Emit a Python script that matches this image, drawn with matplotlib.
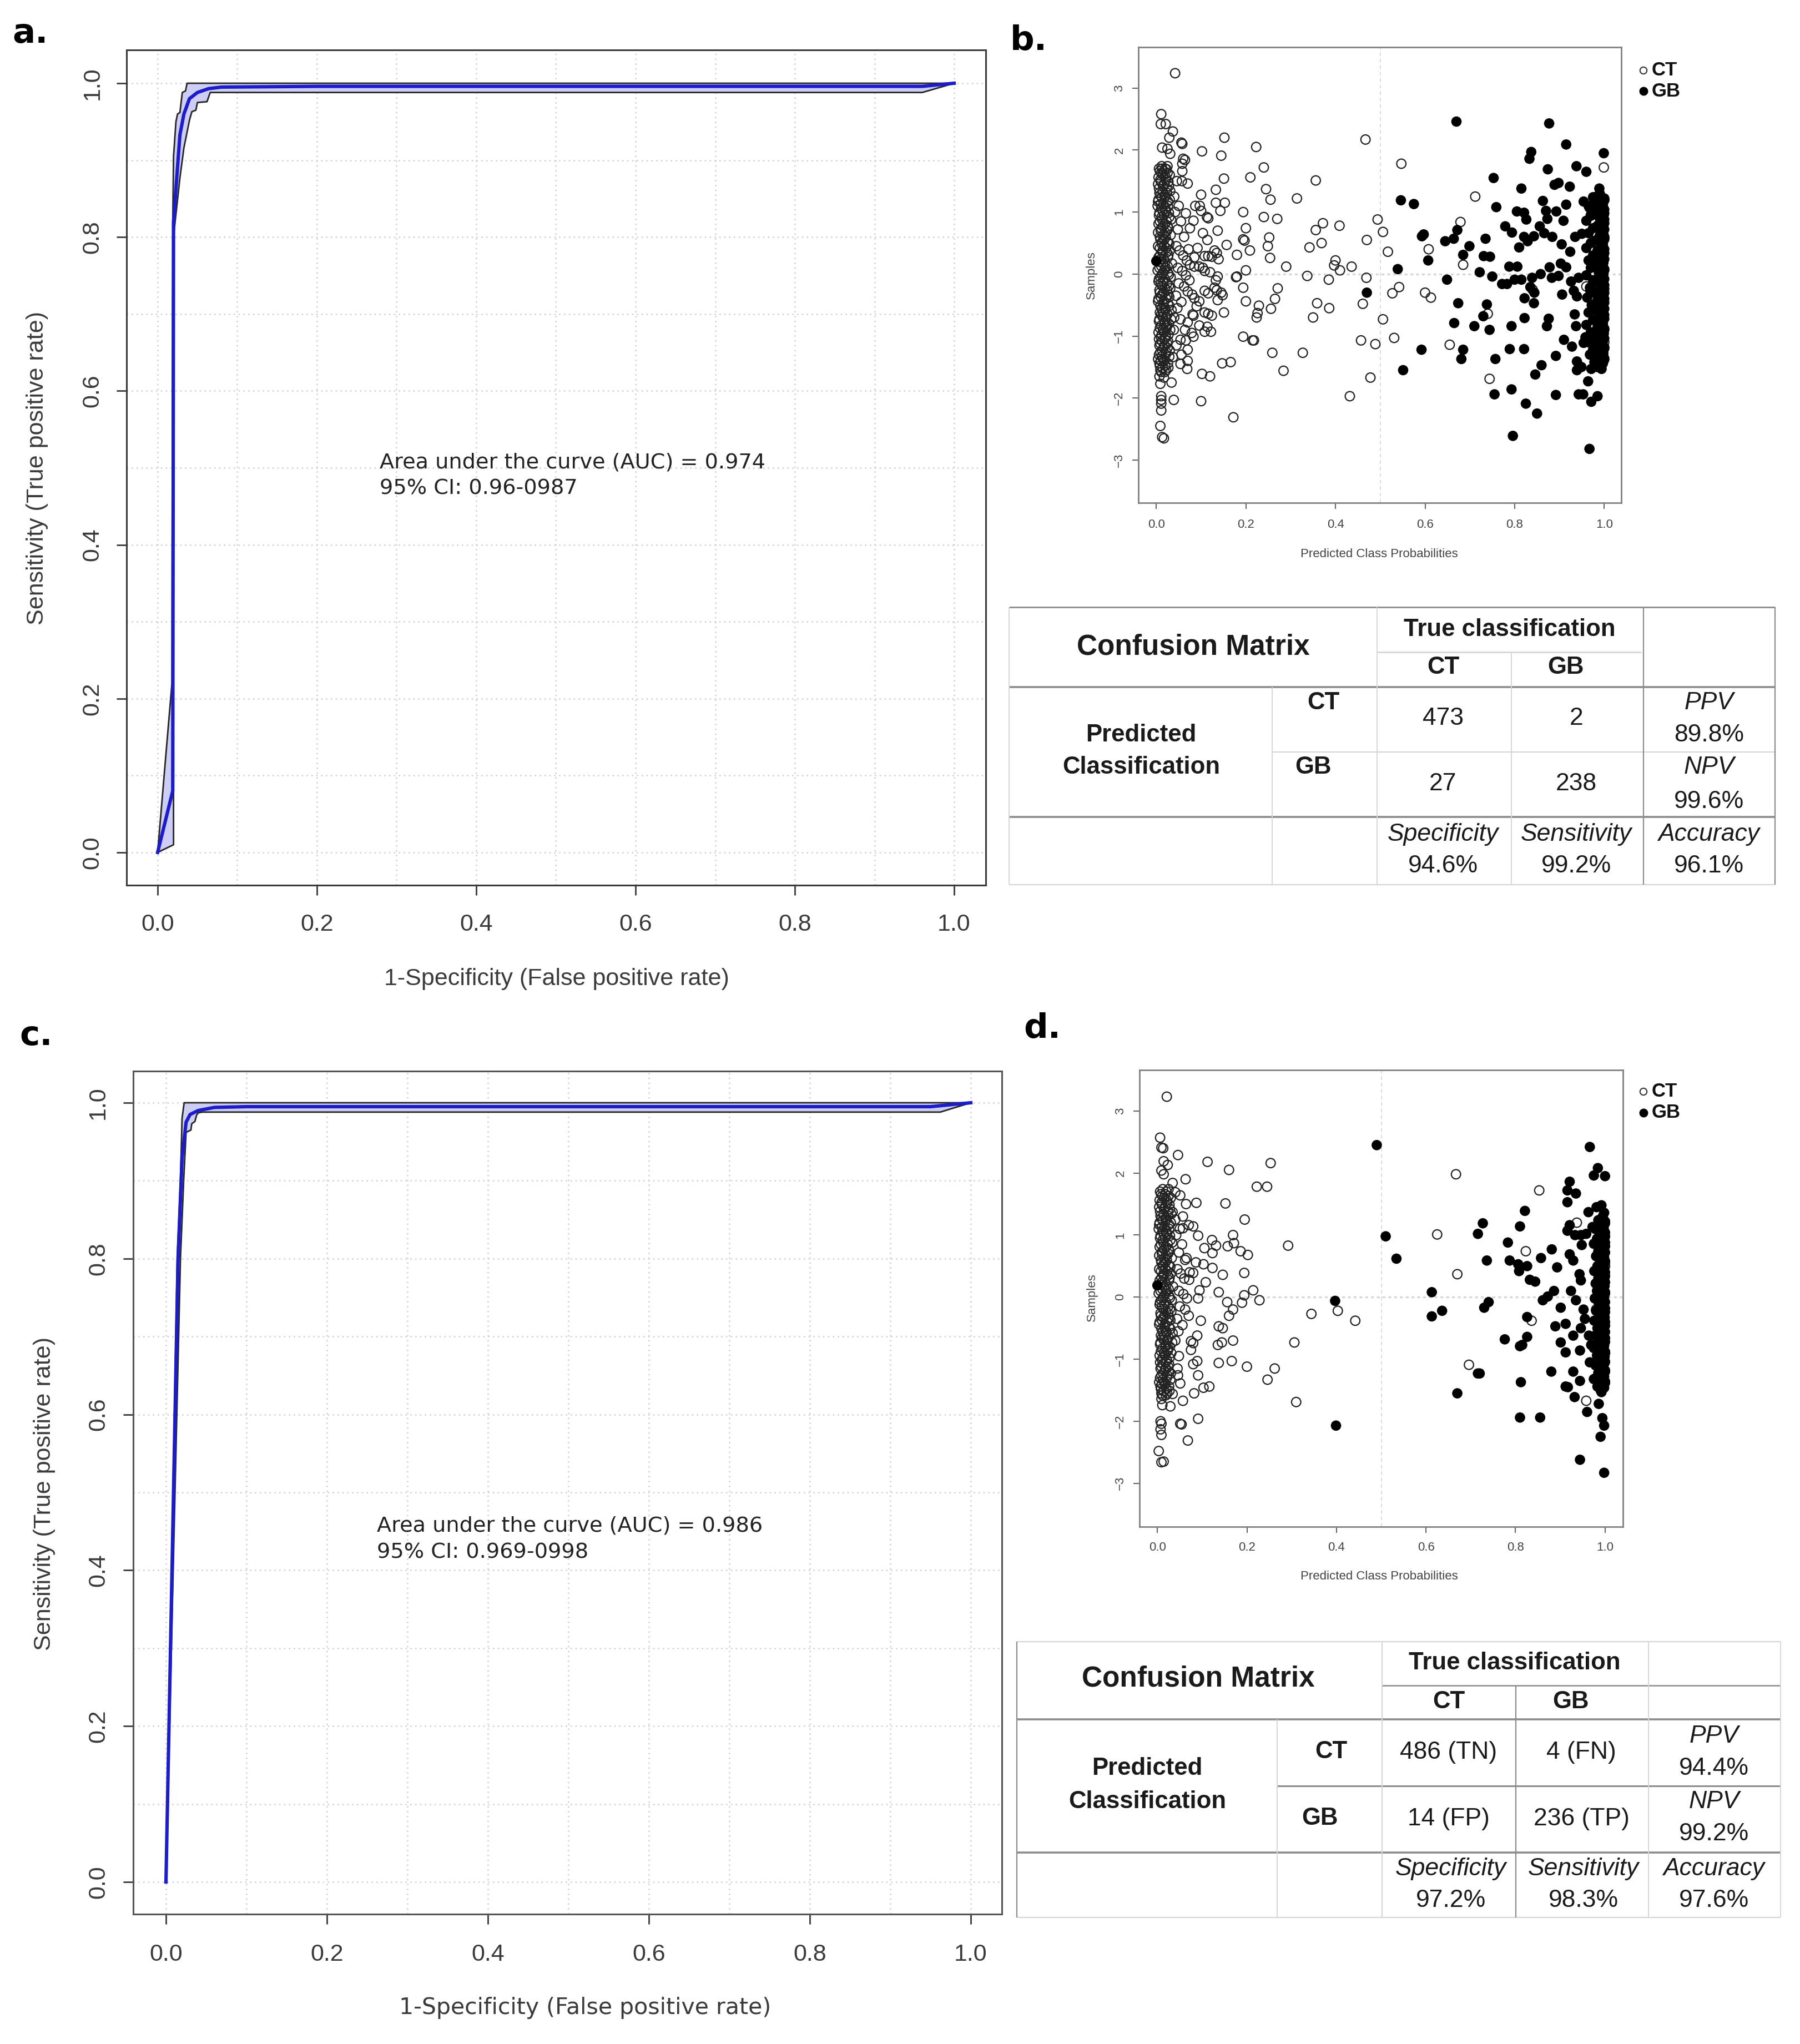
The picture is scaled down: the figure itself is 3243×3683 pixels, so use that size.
import matplotlib
matplotlib.use("Agg")
import matplotlib.pyplot as plt
import numpy as np

plt.rcParams['font.family'] = ['Liberation Sans', 'DejaVu Sans']

W, H = 3243, 3683

# ---------------- ROC data (panel a) ----------------
A_UP_X = [0, 0.018, 0.019, 0.020, 0.023, 0.025, 0.028, 0.031, 0.035, 0.037, 1.0]
A_UP_Y = [0, 0.22, 0.82, 0.905, 0.95, 0.96, 0.962, 0.988, 0.99, 1.0, 1.0]
A_MID_X = [0, 0.019, 0.020, 0.024, 0.028, 0.033, 0.040, 0.050, 0.064, 0.080, 0.20, 0.96, 1.0]
A_MID_Y = [0, 0.08, 0.82, 0.877, 0.933, 0.96, 0.98, 0.988, 0.993, 0.995, 0.996, 0.996, 1.0]
A_LO_X = [0, 0.020, 0.020, 0.022, 0.028, 0.033, 0.040, 0.043, 0.048, 0.050, 0.062, 0.066, 0.96, 1.0]
A_LO_Y = [0, 0.01, 0.80, 0.82, 0.877, 0.916, 0.952, 0.963, 0.965, 0.975, 0.976, 0.988, 0.988, 1.0]

# ---------------- ROC data (panel c) ----------------
C_UP_X = [0, 0.014, 0.018, 0.020, 0.0226, 1.0]
C_UP_Y = [0, 0.80, 0.90, 0.98, 1.0, 1.0]
C_MID_X = [0, 0.015, 0.020, 0.025, 0.030, 0.040, 0.060, 0.10, 0.95, 1.0]
C_MID_Y = [0, 0.80, 0.93, 0.975, 0.985, 0.99, 0.994, 0.995, 0.995, 1.0]
C_LO_X = [0, 0.018, 0.022, 0.025, 0.031, 0.032, 0.036, 0.038, 0.040, 0.045, 0.962, 1.0]
C_LO_Y = [0, 0.80, 0.90, 0.962, 0.965, 0.973, 0.976, 0.984, 0.987, 0.988, 0.988, 1.0]

AUC_A = ["Area under the curve (AUC) = 0.974", "95% CI: 0.96-0987"]
AUC_C = ["Area under the curve (AUC) = 0.986", "95% CI: 0.969-0998"]

# ---------------- scatter data ----------------
# dense CT column near 0 (same samples in b and d)
CORE_Y = [1.74, 1.70, 1.66, 1.63, 1.60, 1.56, 1.52, 1.49, 1.45, 1.42, 1.38, 1.34, 1.31, 1.27, 1.24,
          1.20, 1.17, 1.13, 1.10, 1.06, 1.02, 0.99, 0.95, 0.92, 0.88, 0.85, 0.81, 0.77, 0.74, 0.70,
          0.67, 0.63, 0.60, 0.56, 0.52, 0.49, 0.45, 0.42, 0.38, 0.35, 0.31, 0.27, 0.24, 0.20, 0.17,
          0.13, 0.10, 0.06, 0.02, -0.01, -0.05, -0.08, -0.12, -0.15, -0.19, -0.23, -0.26, -0.30,
          -0.33, -0.37, -0.40, -0.44, -0.48, -0.51, -0.55, -0.58, -0.62, -0.65, -0.69, -0.73, -0.76,
          -0.80, -0.83, -0.87, -0.90, -0.94, -0.98, -1.01, -1.05, -1.08, -1.12, -1.15, -1.19, -1.23,
          -1.26, -1.30, -1.33, -1.37, -1.40, -1.44, -1.48, -1.51, -1.55, -1.58]
CORE_XA = [0.012, 0.020, 0.008, 0.025, 0.015, 0.005, 0.022, 0.010, 0.018, 0.028, 0.006, 0.014, 0.024,
           0.009, 0.019, 0.030, 0.004, 0.016, 0.026, 0.011, 0.021, 0.007, 0.017, 0.029, 0.013, 0.023,
           0.005, 0.015, 0.027, 0.010, 0.020, 0.032, 0.008, 0.018, 0.025, 0.012, 0.004, 0.022, 0.030,
           0.014, 0.009, 0.026, 0.017, 0.006, 0.035, 0.011, 0.021, 0.003, 0.015, 0.028, 0.009, 0.019,
           0.005, 0.024, 0.013, 0.031, 0.007, 0.017, 0.027, 0.010, 0.022, 0.004, 0.016, 0.029, 0.012,
           0.020, 0.008, 0.025, 0.014, 0.033, 0.006, 0.018, 0.011, 0.023, 0.015, 0.005, 0.027, 0.010,
           0.019, 0.013, 0.024, 0.007, 0.016, 0.030, 0.009, 0.021, 0.012, 0.004, 0.018, 0.026, 0.008,
           0.014, 0.022, 0.011]
CORE_XB = [0.025, 0.006, 0.017, 0.011, 0.030, 0.021, 0.009, 0.027, 0.004, 0.015, 0.023, 0.031, 0.007,
           0.019, 0.012, 0.005, 0.026, 0.010, 0.003, 0.020, 0.014, 0.028, 0.006, 0.012, 0.033, 0.008,
           0.019, 0.025, 0.011, 0.024, 0.004, 0.016, 0.021, 0.009, 0.013, 0.029, 0.018, 0.008, 0.014,
           0.023, 0.027, 0.005, 0.010, 0.020, 0.015, 0.025, 0.007, 0.018, 0.026, 0.012, 0.032, 0.006,
           0.016, 0.010, 0.028, 0.019, 0.024, 0.008, 0.013, 0.029, 0.005, 0.017, 0.026, 0.009, 0.020,
           0.034, 0.015, 0.011, 0.022, 0.007, 0.019, 0.028, 0.024, 0.008, 0.031, 0.017, 0.012, 0.021,
           0.006, 0.026, 0.009, 0.018, 0.025, 0.013, 0.022, 0.006, 0.029, 0.015, 0.010, 0.007, 0.020,
           0.027, 0.009, 0.019]

# dense GB column near 1
COL_Y = [1.30, 1.24, 1.19, 1.15, 1.10, 1.06, 1.02, 0.98, 0.94, 0.90, 0.86, 0.82, 0.78, 0.74, 0.70,
         0.66, 0.62, 0.58, 0.54, 0.50, 0.46, 0.42, 0.38, 0.34, 0.30, 0.26, 0.22, 0.18, 0.14, 0.10,
         0.06, 0.02, -0.02, -0.06, -0.10, -0.14, -0.18, -0.22, -0.26, -0.30, -0.34, -0.38, -0.42,
         -0.46, -0.50, -0.54, -0.58, -0.62, -0.66, -0.70, -0.74, -0.78, -0.82, -0.86, -0.90, -0.94,
         -0.98, -1.02, -1.06, -1.10, -1.14, -1.18, -1.22, -1.26, -1.30, -1.34, -1.38, -1.42, -1.46, -1.50]
COL_X_B = [0.990, 0.975, 1.000, 0.985, 0.965, 0.995, 0.980, 1.000, 0.970, 0.990, 0.960, 1.000, 0.985,
           0.975, 0.995, 0.965, 0.990, 1.000, 0.980, 0.970, 0.995, 0.960, 0.985, 1.000, 0.975, 0.990,
           0.965, 0.998, 0.980, 0.970, 1.000, 0.988, 0.960, 0.995, 0.975, 0.985, 1.000, 0.968, 0.990,
           0.978, 0.998, 0.962, 0.985, 1.000, 0.972, 0.992, 0.980, 0.965, 1.000, 0.988, 0.975, 0.995,
           0.960, 0.985, 1.000, 0.970, 0.990, 0.980, 0.998, 0.965, 0.985, 1.000, 0.975, 0.992, 0.968,
           0.988, 1.000, 0.978, 0.995, 0.985]
COL_X_D = [0.995, 0.985, 1.000, 0.990, 0.978, 0.998, 0.988, 1.000, 0.982, 0.995, 0.975, 1.000, 0.992,
           0.985, 0.998, 0.980, 0.995, 1.000, 0.988, 0.983, 0.998, 0.976, 0.992, 1.000, 0.985, 0.995,
           0.979, 0.999, 0.988, 0.982, 1.000, 0.993, 0.977, 0.998, 0.986, 0.992, 1.000, 0.980, 0.995,
           0.988, 0.999, 0.976, 0.992, 1.000, 0.983, 0.996, 0.988, 0.978, 1.000, 0.993, 0.985, 0.998,
           0.975, 0.990, 1.000, 0.982, 0.995, 0.988, 0.999, 0.979, 0.992, 1.000, 0.985, 0.996, 0.980,
           0.993, 1.000, 0.987, 0.998, 0.990]
COL2_Y = [1.22, 1.12, 1.04, 0.96, 0.88, 0.80, 0.72, 0.64, 0.56, 0.48, 0.40, 0.32, 0.24, 0.16, 0.08,
          0.00, -0.08, -0.16, -0.24, -0.32, -0.40, -0.48, -0.56, -0.64, -0.72, -0.80, -0.88, -0.96,
          -1.04, -1.12, -1.20, -1.28, -1.36, -1.44]
COL2_X = [1.000, 0.997, 1.000, 0.999, 1.000, 0.996, 1.000, 0.998, 1.000, 0.997, 1.000, 0.999, 1.000,
          0.996, 1.000, 0.998, 1.000, 0.997, 1.000, 0.999, 1.000, 0.996, 1.000, 0.998, 1.000, 0.997,
          1.000, 0.999, 1.000, 0.996, 1.000, 0.998, 1.000, 0.997]

CT_B = [(0.042, 3.24), (0.011, 2.58), (0.010, 2.42), (0.021, 2.42), (0.037, 2.30), (0.029, 2.20),
        (0.056, 2.12), (0.058, 2.10), (0.013, 2.04), (0.025, 2.02), (0.031, 1.94), (0.102, 1.98),
        (0.145, 1.91), (0.060, 1.86), (0.064, 1.84), (0.152, 2.20), (0.058, 1.78), (0.013, 1.70),
        (0.023, 1.69), (0.058, 1.66), (0.046, 1.50), (0.057, 1.50), (0.070, 1.46), (0.151, 1.54),
        (0.210, 1.56), (0.133, 1.36), (0.100, 1.28), (0.133, 1.15), (0.153, 1.15), (0.087, 1.10),
        (0.097, 1.10), (0.143, 1.02), (0.194, 1.00), (0.066, 0.98), (0.100, 1.02), (0.113, 0.92),
        (0.116, 0.90), (0.083, 0.86), (0.200, 0.74), (0.137, 0.70), (0.075, 0.74), (0.104, 0.66),
        (0.194, 0.56), (0.114, 0.55), (0.157, 0.47), (0.209, 0.38), (0.180, 0.31), (0.130, 0.38),
        (0.135, 0.34), (0.108, 0.29), (0.116, 0.29), (0.124, 0.28), (0.139, 0.24), (0.085, 0.12),
        (0.096, 0.12), (0.104, 0.10), (0.108, 0.05), (0.120, 0.03), (0.137, -0.04), (0.180, -0.04),
        (0.200, 0.06), (0.133, -0.10), (0.194, -0.22), (0.130, -0.22), (0.135, -0.26), (0.108, -0.27),
        (0.116, -0.31), (0.145, -0.30), (0.137, -0.42), (0.148, -0.34), (0.085, -0.39), (0.096, -0.44),
        (0.200, -0.44), (0.151, -0.62), (0.081, -0.65), (0.083, -0.67), (0.108, -0.62), (0.116, -0.64),
        (0.124, -0.67), (0.054, -0.73), (0.070, -0.78), (0.096, -0.83), (0.114, -0.85), (0.064, -0.90),
        (0.079, -0.95), (0.108, -0.93), (0.122, -0.93), (0.039, -0.90), (0.054, -1.06), (0.066, -1.07),
        (0.083, -1.01), (0.194, -1.01), (0.215, -1.07), (0.070, -1.22), (0.056, -1.30), (0.037, -1.34),
        (0.070, -1.40), (0.054, -1.45), (0.069, -1.53), (0.147, -1.44), (0.166, -1.42), (0.102, -1.61),
        (0.120, -1.65), (0.034, -1.75), (0.007, -1.65), (0.017, -1.67), (0.009, -1.77), (0.039, -2.03),
        (0.100, -2.05), (0.011, -1.97), (0.011, -2.03), (0.011, -2.09), (0.011, -2.20), (0.172, -2.31),
        (0.009, -2.45), (0.013, -2.63), (0.017, -2.65),
        (0.223, 2.05), (0.240, 1.72), (0.356, 1.51), (0.245, 1.37), (0.255, 1.20), (0.314, 1.22),
        (0.240, 0.92), (0.270, 0.89), (0.494, 0.88), (0.372, 0.82), (0.409, 0.78), (0.356, 0.71),
        (0.252, 0.59), (0.197, 0.54), (0.249, 0.45), (0.369, 0.50), (0.342, 0.43), (0.470, 0.55),
        (0.254, 0.26), (0.290, 0.12), (0.400, 0.22), (0.410, 0.06), (0.436, 0.12), (0.397, 0.14),
        (0.178, -0.05), (0.337, -0.03), (0.385, -0.09), (0.469, -0.06), (0.271, -0.23), (0.265, -0.40),
        (0.229, -0.51), (0.226, -0.63), (0.256, -0.56), (0.224, -0.70), (0.359, -0.47), (0.386, -0.55),
        (0.350, -0.70), (0.461, -0.48), (0.457, -1.07), (0.489, -1.13), (0.218, -1.07), (0.259, -1.27),
        (0.327, -1.27), (0.284, -1.56), (0.478, -1.67), (0.432, -1.97), (0.467, 2.17),
        (0.045, 0.45), (0.052, 0.38), (0.060, 0.30), (0.068, 0.22), (0.075, 0.15), (0.048, 0.10),
        (0.058, 0.05), (0.066, -0.02), (0.074, -0.10), (0.050, -0.15), (0.062, -0.20), (0.070, -0.28),
        (0.080, -0.33), (0.044, -0.35), (0.056, -0.45), (0.090, -0.52), (0.047, -0.55), (0.062, 0.60),
        (0.048, 0.72), (0.055, 0.85), (0.042, 1.00), (0.050, 1.10), (0.040, 1.25), (0.045, -1.15),
        (0.040, -0.70), (0.092, 0.42), (0.085, 0.27), (0.072, 0.40),
        # CT predicted as GB
        (0.547, 1.78), (0.999, 1.72), (0.712, 1.25), (0.506, 0.68), (0.679, 0.84), (0.517, 0.36),
        (0.608, 0.40), (0.685, 0.15), (0.542, -0.21), (0.527, -0.31), (0.600, -0.30), (0.613, -0.38),
        (0.506, -0.73), (0.531, -1.03), (0.655, -1.14), (0.744, -1.69), (1.000, 1.20), (0.990, 1.10),
        (0.970, 0.95), (1.000, 0.60), (1.000, -0.30), (0.995, -0.45), (1.000, -1.10), (0.740, -0.64),
        (0.960, -0.20), (0.980, 0.30), (0.840, -0.25)]

GB_B = [(0.670, 2.46), (0.877, 2.43), (0.915, 2.09), (0.837, 1.97), (0.833, 1.86), (0.999, 1.95),
        (0.938, 1.74), (0.960, 1.65), (0.874, 1.69), (0.753, 1.55), (0.898, 1.47), (0.889, 1.44),
        (0.923, 1.41), (0.815, 1.38), (0.989, 1.38), (0.546, 1.19), (0.575, 1.13), (0.759, 1.08),
        (0.863, 1.18), (0.915, 1.12), (0.954, 1.17), (0.983, 1.25), (0.805, 1.01), (0.821, 0.99),
        (0.826, 0.88), (0.870, 1.02), (0.873, 0.89), (0.893, 1.01), (0.909, 0.86), (0.967, 1.07),
        (0.779, 0.77), (0.794, 0.67), (0.821, 0.60), (0.829, 0.53), (0.843, 0.61), (0.856, 0.77),
        (0.866, 0.66), (0.884, 0.60), (0.905, 0.48), (0.924, 0.36), (0.935, 0.60), (0.950, 0.65),
        (0.593, 0.61), (0.597, 0.64), (0.607, 0.22), (0.645, 0.53), (0.664, 0.57), (0.672, 0.71),
        (0.699, 0.45), (0.685, 0.31), (0.735, 0.57), (0.731, 0.29), (0.745, 0.28), (0.722, 0.03),
        (0.750, -0.04), (0.810, 0.43), (0.788, 0.12), (0.806, 0.12), (0.800, -0.09), (0.815, -0.09),
        (0.839, -0.06), (0.858, 0.00), (0.878, 0.11), (0.883, -0.06), (0.903, 0.17), (0.915, 0.11),
        (0.898, -0.03), (0.926, -0.12), (0.943, -0.06), (0.539, 0.08), (0.649, -0.09), (0.772, -0.16),
        (0.783, -0.16), (0.835, -0.21), (0.844, -0.30), (0.822, -0.39), (0.843, -0.47), (0.906, -0.33),
        (0.932, -0.27), (0.939, -0.36), (0.969, -0.27), (0.674, -0.47), (0.738, -0.49), (0.730, -0.68),
        (0.665, -0.79), (0.710, -0.84), (0.744, -0.90), (0.822, -0.71), (0.793, -0.84), (0.876, -0.72),
        (0.872, -0.84), (0.934, -0.65), (0.937, -0.84), (0.958, -1.02), (0.910, -1.06), (0.928, -1.17),
        (0.954, -1.11), (0.984, -1.17), (0.685, -1.22), (0.592, -1.22), (0.789, -1.21), (0.821, -1.21),
        (0.681, -1.37), (0.757, -1.37), (0.892, -1.32), (0.939, -1.41), (0.949, -1.50), (0.939, -1.55),
        (0.983, -1.44), (0.994, -1.53), (0.971, -1.53), (0.551, -1.55), (0.860, -1.47), (0.846, -1.62),
        (0.964, -1.73), (0.755, -1.94), (0.892, -1.95), (0.943, -1.94), (0.953, -1.94), (0.985, -1.97),
        (0.971, -2.06), (0.793, -1.86), (0.825, -2.09), (0.850, -2.25), (0.796, -2.61), (0.967, -2.82),
        (0.470, -0.30), (0.000, 0.21)]

CT_D = [(0.021, 3.23), (0.006, 2.57), (0.009, 2.41), (0.013, 2.40), (0.046, 2.29), (0.014, 2.19),
        (0.023, 2.13), (0.112, 2.18), (0.253, 2.16), (0.160, 2.05), (0.009, 2.04), (0.014, 1.98),
        (0.063, 1.90), (0.034, 1.84), (0.222, 1.78), (0.245, 1.78), (0.040, 1.69), (0.051, 1.64),
        (0.064, 1.50), (0.087, 1.52), (0.152, 1.51), (0.034, 1.37), (0.057, 1.30), (0.070, 1.16),
        (0.080, 1.14), (0.057, 1.11), (0.195, 1.25), (0.091, 0.99), (0.169, 1.00), (0.122, 0.92),
        (0.171, 0.87), (0.157, 0.82), (0.105, 0.79), (0.131, 0.83), (0.292, 0.83), (0.186, 0.74),
        (0.202, 0.68), (0.123, 0.71), (0.065, 0.63), (0.086, 0.56), (0.103, 0.53), (0.123, 0.47),
        (0.146, 0.36), (0.194, 0.39), (0.080, 0.39), (0.071, 0.28), (0.108, 0.24), (0.214, 0.11),
        (0.194, 0.03), (0.137, 0.08), (0.094, 0.11), (0.228, -0.05), (0.189, -0.09), (0.156, -0.08),
        (0.091, -0.02), (0.169, -0.20), (0.160, -0.30), (0.344, -0.27), (0.403, -0.22), (0.442, -0.38),
        (0.097, -0.38), (0.137, -0.47), (0.146, -0.50), (0.089, -0.62), (0.169, -0.70), (0.144, -0.73),
        (0.135, -0.77), (0.306, -0.73), (0.075, -0.71), (0.080, -0.74), (0.048, -0.95), (0.089, -1.03),
        (0.080, -1.08), (0.137, -1.06), (0.166, -1.03), (0.200, -1.12), (0.262, -1.15), (0.091, -1.26),
        (0.046, -1.26), (0.051, -1.39), (0.116, -1.44), (0.103, -1.46), (0.246, -1.33), (0.082, -1.55),
        (0.034, -1.56), (0.057, -1.67), (0.310, -1.69), (0.009, -1.64), (0.011, -1.74), (0.029, -1.76),
        (0.051, -2.04), (0.054, -2.05), (0.091, -1.96), (0.007, -2.00), (0.009, -2.04), (0.007, -2.13),
        (0.009, -2.22), (0.068, -2.31), (0.003, -2.48), (0.009, -2.66), (0.014, -2.65),
        (0.045, 0.45), (0.052, 0.38), (0.060, 0.30), (0.048, 0.10), (0.058, 0.05), (0.066, -0.02),
        (0.050, -0.15), (0.062, -0.20), (0.044, -0.35), (0.056, -0.45), (0.047, -0.55), (0.062, 0.60),
        (0.048, 0.72), (0.055, 0.85), (0.042, 1.00), (0.050, 1.10), (0.040, 1.25), (0.045, -1.15),
        (0.040, -0.70), (0.072, 0.40), (0.070, -0.30), (0.075, -0.85),
        # CT predicted as GB (FP)
        (0.667, 1.98), (0.853, 1.72), (0.625, 1.01), (0.823, 0.74), (0.670, 0.37), (0.937, 1.20),
        (0.836, -0.38), (0.696, -1.09), (0.958, -1.67), (0.990, 1.15), (1.000, 0.50), (0.980, -0.20),
        (1.000, -0.90), (0.995, 0.20)]

GB_D = [(0.490, 2.45), (0.510, 0.98), (0.534, 0.62), (0.397, -0.06), (0.399, -2.07), (0.000, 0.19),
        (0.613, 0.08), (0.613, -0.31), (0.636, -0.22), (0.716, 1.02), (0.727, 1.19), (0.736, 0.59),
        (0.730, -0.17), (0.740, -0.08), (0.716, -1.23), (0.720, -1.23), (0.670, -1.55), (0.783, 0.88),
        (0.787, 0.59), (0.776, -0.68), (0.810, 1.14), (0.821, 1.39), (0.806, 0.53), (0.808, 0.42),
        (0.826, 0.50), (0.832, 0.28), (0.844, 0.25), (0.857, 0.63), (0.861, -0.05), (0.872, 0.01),
        (0.881, 0.77), (0.886, 0.10), (0.893, 0.48), (0.826, -0.32), (0.826, -0.64), (0.810, -0.79),
        (0.815, -0.77), (0.812, -1.37), (0.880, -1.20), (0.889, -0.47), (0.901, -0.17), (0.901, -0.73),
        (0.912, -0.89), (0.912, -0.43), (0.929, -0.62), (0.929, -1.20), (0.912, -1.44), (0.917, -1.45),
        (0.932, -1.61), (0.944, -1.35), (0.960, -1.85), (0.810, -1.94), (0.855, -1.94), (0.944, -2.62),
        (0.986, -1.72), (0.994, -1.95), (0.998, -2.07), (0.990, -2.25), (0.998, -2.83), (0.966, 2.42),
        (0.984, 2.08), (0.975, 1.96), (1.000, 1.95), (0.921, 1.86), (0.916, 1.72), (0.935, 1.67),
        (0.916, 1.53), (0.981, 1.45), (0.992, 1.48), (0.963, 1.37), (0.998, 1.36), (0.916, 1.07),
        (0.921, 1.16), (0.933, 1.00), (0.946, 1.00), (0.958, 1.02), (0.948, 0.84), (0.972, 1.13),
        (0.921, 0.69), (0.929, 0.59), (0.943, 0.37), (0.946, 0.27), (0.924, 0.10), (0.935, -0.05),
        (0.952, -0.20), (0.955, -0.35), (0.946, -0.50), (0.964, -0.62), (0.969, -0.77), (0.944, -0.86),
        (0.966, -1.05), (0.975, -1.32), (0.983, -1.44), (0.992, -1.53)]

# ---------------- confusion matrix values ----------------
CM_B_CELLS = ["473", "2", "27", "238"]
CM_B_SIDE = ["89.8%", "99.6%"]
CM_B_BOTTOM = ["94.6%", "99.2%", "96.1%"]
CM_D_CELLS = ["486 (TN)", "4 (FN)", "14 (FP)", "236 (TP)"]
CM_D_SIDE = ["94.4%", "99.2%"]
CM_D_BOTTOM = ["97.2%", "98.3%", "97.6%"]


fig = plt.figure(figsize=(W / 100, H / 100), dpi=100)
ov = fig.add_axes([0, 0, 1, 1])
ov.set_xlim(0, W)
ov.set_ylim(H, 0)
ov.axis('off')
ov.patch.set_visible(False)


def px_axes(l, t, r, b):
    return fig.add_axes([l / W, 1 - b / H, (r - l) / W, (b - t) / H])


def roc_panel(ax, up, mid, lo, xlim, ylim, auc, auc_xy, tick_pad, spine_col):
    ax.set_xlim(*xlim)
    ax.set_ylim(*ylim)
    ax.set_xticks([0, 0.2, 0.4, 0.6, 0.8, 1.0])
    ax.set_yticks([0, 0.2, 0.4, 0.6, 0.8, 1.0])
    ax.set_xticks(np.arange(0, 1.01, 0.1), minor=True)
    ax.set_yticks(np.arange(0, 1.01, 0.1), minor=True)
    ax.grid(which='both', color='#cfcfcf', linestyle=(0, (1, 2.5)), linewidth=1.8, zorder=0)
    ax.set_axisbelow(True)
    px = list(up[0]) + list(lo[0])[::-1]
    py = list(up[1]) + list(lo[1])[::-1]
    ax.fill(px, py, color='#cdcdf5', lw=0, zorder=2)
    ax.plot(up[0], up[1], color='#262626', lw=2.0, zorder=3)
    ax.plot(lo[0], lo[1], color='#262626', lw=2.0, zorder=3)
    ax.plot(mid[0], mid[1], color='#1c1cc8', lw=4.4, zorder=4, solid_joinstyle='round')
    for s in ax.spines.values():
        s.set_color(spine_col)
        s.set_linewidth(2.2)
    ax.tick_params(which='major', direction='out', length=13, width=2, color='#3a3a3a',
                   labelsize=31, labelcolor='#3a3a3a')
    ax.tick_params(axis='x', pad=tick_pad[0])
    ax.tick_params(axis='y', pad=tick_pad[1], labelrotation=90)
    for lbl in ax.get_yticklabels():
        lbl.set_va('center')
    ax.tick_params(which='minor', length=0)
    ax.text(auc_xy[0], auc_xy[1], auc[0], family='DejaVu Sans', fontsize=27.5, color='#222222',
            va='center', ha='left', zorder=5)
    ax.text(auc_xy[0], auc_xy[1] - 0.034, auc[1], family='DejaVu Sans', fontsize=27.5,
            color='#222222', va='center', ha='left', zorder=5)


def scatter_panel(ax, ct, ylim, xlim):
    ax.set_xlim(*xlim)
    ax.set_ylim(*ylim)
    ax.axvline(0.5, color='#d5d5d5', linestyle=(0, (4, 3)), lw=1.2, zorder=1)
    ax.axhline(0, color='#d8d8d8', linestyle=(0, (1.5, 1.5)), lw=2.5, zorder=1)
    ct_x = [p[0] for p in ct] + CORE_XA[:len(CORE_Y)] + CORE_XB[:len(CORE_Y)]
    ct_y = [p[1] for p in ct] + CORE_Y[:len(CORE_XA)] + CORE_Y[:len(CORE_XB)]
    return ct_x, ct_y


def style_scatter(ax, xpad):
    ax.set_xticks([0, 0.2, 0.4, 0.6, 0.8, 1.0])
    ax.set_xticklabels(['0.0', '0.2', '0.4', '0.6', '0.8', '1.0'])
    ax.set_yticks([-3, -2, -1, 0, 1, 2, 3])
    for s in ax.spines.values():
        s.set_color('#808080')
        s.set_linewidth(2)
    ax.tick_params(direction='out', length=8, width=1.5, color='#666666', labelsize=16,
                   labelcolor='#444444')
    ax.tick_params(axis='x', pad=xpad)
    ax.tick_params(axis='y', pad=9, labelrotation=90)
    for lbl in ax.get_yticklabels():
        lbl.set_va('center')


# ---------------- panel a ----------------
ax_a = px_axes(228, 90, 1776, 1595)
roc_panel(ax_a, (A_UP_X, A_UP_Y), (A_MID_X, A_MID_Y), (A_LO_X, A_LO_Y),
          (-0.039, 1.0397), (-0.0426, 1.0433), AUC_A, (0.279, 0.507), (24, 17), '#3a3a3a')

# ---------------- panel c ----------------
ax_c = px_axes(240, 1930, 1805, 3449)
roc_panel(ax_c, (C_UP_X, C_UP_Y), (C_MID_X, C_MID_Y), (C_LO_X, C_LO_Y),
          (-0.0407, 1.0386), (-0.0413, 1.0406), AUC_C, (0.262, 0.457), (25, 18), '#555555')

# ---------------- panel b ----------------
ax_b = px_axes(2051, 85, 2921, 906)
ctx, cty = scatter_panel(ax_b, CT_B, (-3.69, 3.66), (-0.04, 1.038))
gbx = [p[0] for p in GB_B] + COL_X_B + COL2_X
gby = [p[1] for p in GB_B] + COL_Y + COL2_Y
ax_b.scatter(ctx, cty, s=145, facecolors='none', edgecolors='#222222', linewidths=1.6, zorder=3)
ax_b.scatter(gbx, gby, s=180, c='black', edgecolors='none', zorder=4)
style_scatter(ax_b, 13)

# ---------------- panel d ----------------
ax_d = px_axes(2053, 1928, 2924, 2751)
ctx, cty = scatter_panel(ax_d, CT_D, (-3.70, 3.66), (-0.04, 1.04))
gbx = [p[0] for p in GB_D] + COL_X_D + COL2_X
gby = [p[1] for p in GB_D] + COL_Y + COL2_Y
ax_d.scatter(ctx, cty, s=145, facecolors='none', edgecolors='#222222', linewidths=1.6, zorder=3)
ax_d.scatter(gbx, gby, s=180, c='black', edgecolors='none', zorder=4)
style_scatter(ax_d, 11.5)

# ---------------- axis titles (pixel placement) ----------------
lab = '#3a3a3a'
ov.text(1003, 1764, '1-Specificity (False positive rate)', fontsize=31, color=lab, ha='center', va='center')
ov.text(67, 844, 'Sensitivity (True positive rate)', fontsize=31, color=lab, ha='center', va='center', rotation=90)
ov.text(1054, 3618, '1-Specificity (False positive rate)', family='DejaVu Sans', fontsize=29.5, color=lab,
        ha='center', va='center')
ov.text(80, 2691, 'Sensitivity (True positive rate)', fontsize=31, color=lab, ha='center', va='center', rotation=90)

for (xc, yc), (yx, yy) in [((2485, 998), (1966, 496)), ((2485, 2840), (1967, 2338))]:
    ov.text(xc, yc, 'Predicted Class Probabilities', fontsize=16, color='#444444', ha='center', va='center')
    ov.text(yx, yy, 'Samples', fontsize=16, color='#444444', ha='center', va='center', rotation=90)

# legends
for yct, ygb in [(127, 164), (1967, 2005)]:
    ov.scatter([2961], [yct], s=80, facecolors='none', edgecolors='#333333', linewidths=1.5)
    ov.scatter([2961], [ygb], s=110, c='black')
    ov.text(2976, yct, 'CT', fontsize=25, fontweight='bold', color='#111111', ha='left', va='center')
    ov.text(2976, ygb, 'GB', fontsize=25, fontweight='bold', color='#111111', ha='left', va='center')

# panel letters
for (x, y, t) in [(22, 77, 'a.'), (1820, 90, 'b.'), (35, 1883, 'c.'), (1844, 1870, 'd.')]:
    ov.text(x, y, t, family='DejaVu Sans', fontsize=44, fontweight='bold', color='black',
            ha='left', va='baseline')

# ---------------- confusion matrix tables ----------------
DARK = '#8c8c8c'
LIGHT = '#d6d6d6'


def hline(y, x0, x1, c, lw):
    ov.plot([x0, x1], [y, y], color=c, lw=lw, solid_capstyle='butt')


def vline(x, y0, y1, c, lw):
    ov.plot([x, x], [y0, y1], color=c, lw=lw, solid_capstyle='butt')


def cm_text(x, y, s, weight='normal', style='normal', size=31.5):
    ov.text(x, y, s, fontsize=size, fontweight=weight, fontstyle=style, color='#1a1a1a',
            ha='center', va='center')


# table b
L, R = 1818, 3198
hline(1094, L, R, DARK, 2.0)
hline(1175, 2481, 2957, LIGHT, 2.0)
hline(1238, L, R, DARK, 2.6)
hline(1355, 2292, R, LIGHT, 1.6)
hline(1472, L, R, DARK, 2.6)
hline(1594, L, R, LIGHT, 1.6)
vline(L, 1094, 1594, LIGHT, 1.4)
vline(2292, 1238, 1594, LIGHT, 1.4)
vline(2481, 1094, 1594, LIGHT, 1.4)
vline(2723, 1175, 1594, LIGHT, 1.4)
vline(2961, 1094, 1594, DARK, 1.6)
vline(R, 1094, 1594, DARK, 1.6)
cm_text(2150, 1166, 'Confusion Matrix', 'bold', size=37)
cm_text(2720, 1135, 'True classification', 'bold')
cm_text(2600, 1203, 'CT', 'bold')
cm_text(2821, 1203, 'GB', 'bold')
cm_text(2384, 1266, 'CT', 'bold')
cm_text(2366, 1383, 'GB', 'bold')
cm_text(2056, 1324, 'Predicted', 'bold')
cm_text(2056, 1383, 'Classification', 'bold')
for (x, y), s in zip([(2600, 1295), (2840, 1295), (2600, 1412), (2840, 1412)], CM_B_CELLS):
    cm_text(x, y, s, size=32)
cm_text(3079, 1266, 'PPV', style='italic', size=32)
cm_text(3079, 1324, CM_B_SIDE[0], size=32)
cm_text(3079, 1383, 'NPV', style='italic', size=32)
cm_text(3079, 1445, CM_B_SIDE[1], size=32)
for x, name, v in zip([2600, 2840, 3079], ['Specificity', 'Sensitivity', 'Accuracy'], CM_B_BOTTOM):
    cm_text(x, 1503, name, style='italic', size=32)
    cm_text(x, 1560, v, size=32)

# table d
L, R = 1832, 3208
hline(2958, L, R, LIGHT, 1.6)
hline(3037, 2490, R, DARK, 1.8)
hline(3098, L, R, DARK, 2.6)
hline(3218, 2301, R, DARK, 2.2)
hline(3338, L, R, DARK, 2.6)
hline(3455, L, R, LIGHT, 1.6)
vline(L, 2958, 3455, DARK, 1.6)
vline(2301, 3098, 3455, LIGHT, 1.4)
vline(2490, 2958, 3455, LIGHT, 1.6)
vline(2731, 3037, 3455, DARK, 1.6)
vline(2970, 2958, 3455, LIGHT, 1.4)
vline(R, 2958, 3455, LIGHT, 1.4)
cm_text(2159, 3025, 'Confusion Matrix', 'bold', size=37)
cm_text(2729, 2997, 'True classification', 'bold')
cm_text(2610, 3067, 'CT', 'bold')
cm_text(2830, 3067, 'GB', 'bold')
cm_text(2398, 3156, 'CT', 'bold')
cm_text(2378, 3277, 'GB', 'bold')
cm_text(2067, 3186, 'Predicted', 'bold')
cm_text(2067, 3246, 'Classification', 'bold')
for (x, y), s in zip([(2610, 3158), (2849, 3158), (2610, 3277), (2849, 3277)], CM_D_CELLS):
    cm_text(x, y, s, size=32)
cm_text(3088, 3128, 'PPV', style='italic', size=32)
cm_text(3088, 3186, CM_D_SIDE[0], size=32)
cm_text(3088, 3246, 'NPV', style='italic', size=32)
cm_text(3088, 3304, CM_D_SIDE[1], size=32)
for x, name, v in zip([2614, 2853, 3088], ['Specificity', 'Sensitivity', 'Accuracy'], CM_D_BOTTOM):
    cm_text(x, 3367, name, style='italic', size=32)
    cm_text(x, 3425, v, size=32)

fig.savefig('out.png', dpi=100)
